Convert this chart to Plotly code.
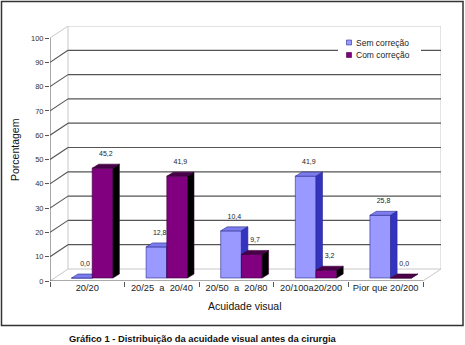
import plotly.graph_objects as go

# ---------------- data ----------------
categories = ["20/20", "20/25\u00a0 a \u00a020/40", "20/50\u00a0 a \u00a020/80", "20/100a20/200", "Pior que 20/200"]
series_names = ["Sem correção", "Com correção"]
sem_correcao = [0.0, 12.8, 19.4, 41.9, 25.8]
com_correcao = [45.2, 41.9, 9.7, 3.2, 0.0]
sem_labels = ["0,0", "12,8", "10,4", "41,9", "25,8"]
com_labels = ["45,2", "41,9", "9,7", "3,2", "0,0"]
y_ticks = list(range(0, 101, 10))
y_title = "Porcentagem"
x_title = "Acuidade visual"
caption = "Gráfico 1 - Distribuição da acuidade visual antes da cirurgia"

# ---------------- geometry (pixels) ----------------
W, H = 465, 345
L, R, T, B = 50, 24, 26, 64
XPX = 74.6          # px per category
YPX = 2.43          # px per percent
PW, PH = W - L - R, H - T - B
x_range = [-0.5, -0.5 + PW / XPX]
y_range = [0, PH / YPX]

bx, by = 18 / XPX, 12 / YPX          # wall depth
pbx, pby = 4.9 / XPX, 3 / YPX        # bar plane offset
dbx, dby = 6.5 / XPX, 4 / YPX        # bar depth
bw = 20.7 / XPX                      # bar width

def pxx(p):
    return (p - L) / PW

def pxy(p):
    return (H - B - p) / PH

colors = {
    0: dict(front="#9999FF", top="#7C7CEE", side="#3333C0", edge="#2A2A90"),
    1: dict(front="#800080", top="#4A0048", side="#000000", edge="#3A003A"),
}

fig = go.Figure()

# ---------------- walls / grid ----------------
shapes = []
light = "#C8C8C8"
dark = "#555555"
x0w, x1w = -0.5, len(categories) - 0.5

def line(xa, ya, xb, yb, color, width=1.0):
    shapes.append(dict(type="line", xref="x", yref="y", x0=xa, y0=ya, x1=xb, y1=yb,
                       line=dict(color=color, width=width), layer="below"))

# floor
line(x0w, 0, x0w + bx, by, light)
line(x1w, 0, x1w + bx, by, light)
line(x0w + bx, by, x1w + bx, by, light)
# back wall verticals
line(x0w + bx, by, x0w + bx, 100 + by, light)
line(x1w + bx, by, x1w + bx, 100 + by, light)
# top
line(x0w, 100, x0w + bx, 100 + by, light)
line(x0w + bx, 100 + by, x1w + bx, 100 + by, light)
for v in y_ticks[1:-1]:
    line(x0w, v, x0w + bx, v + by, dark, 1.1)
    line(x0w + bx, v + by, x1w + bx, v + by, dark, 1.2)

# front axes
line(x0w, 0, x1w, 0, "#555555", 1.0)
line(x0w, 0, x0w, 100, "#555555", 1.0)

# ---------------- 3D bars ----------------
for s, vals in enumerate([sem_correcao, com_correcao]):
    fx, fy, tx, ty, sx, sy = [], [], [], [], [], []
    for i, v in enumerate(vals):
        c = i + pbx
        xa = c - bw if s == 0 else c
        xb = xa + bw
        ya, yb = pby, v + pby
        fx += [xa, xb, xb, xa, xa, None]
        fy += [ya, ya, yb, yb, ya, None]
        tx += [xa, xb, xb + dbx, xa + dbx, xa, None]
        ty += [yb, yb, yb + dby, yb + dby, yb, None]
        sx += [xb, xb + dbx, xb + dbx, xb, xb, None]
        sy += [ya, ya + dby, yb + dby, yb, ya, None]
    col = colors[s]
    for xs, ys, fc in [(fx, fy, col["front"]), (tx, ty, col["top"]), (sx, sy, col["side"])]:
        fig.add_trace(go.Scatter(x=xs, y=ys, mode="lines", fill="toself", fillcolor=fc,
                                 line=dict(color=col["edge"], width=0.6),
                                 hoverinfo="skip", showlegend=False, name=series_names[s]))

# value labels
for s, (vals, labs) in enumerate([(sem_correcao, sem_labels), (com_correcao, com_labels)]):
    xs, ys = [], []
    for i, v in enumerate(vals):
        c = i + pbx
        xa = c - bw if s == 0 else c
        xs.append(xa + bw / 2 + dbx / 2)
        ys.append(v + pby + 14 / YPX)
    fig.add_trace(go.Scatter(x=xs, y=ys, mode="text", text=labs,
                             textfont=dict(family="Liberation Sans, Arial", size=7, color="#222222"),
                             hoverinfo="skip", showlegend=False))

# ---------------- legend (manual) ----------------
shapes.append(dict(type="rect", xref="paper", yref="paper",
                   x0=pxx(338), x1=pxx(421), y0=pxy(63), y1=pxy(35),
                   fillcolor="white", line=dict(width=0), layer="above"))
annotations = []
for k, name in enumerate(series_names):
    yc = 42.5 + k * 12.5
    shapes.append(dict(type="rect", xref="paper", yref="paper",
                       x0=pxx(346.5), x1=pxx(351.5), y0=pxy(yc + 2.5), y1=pxy(yc - 2.5),
                       fillcolor=colors[k]["front"], line=dict(color=colors[k]["edge"], width=0.6),
                       layer="above"))
    annotations.append(dict(xref="paper", yref="paper", x=pxx(353.5), y=pxy(yc),
                            xanchor="left", yanchor="middle", text=name, showarrow=False,
                            font=dict(family="Liberation Sans, Arial", size=8.5, color="#222222")))

# outer frame
shapes.append(dict(type="rect", xref="paper", yref="paper",
                   x0=pxx(1.5), x1=pxx(463), y0=pxy(325.5), y1=pxy(1.5),
                   line=dict(color="#333333", width=1.5), layer="above"))

# titles
annotations.append(dict(xref="paper", yref="paper", x=pxx(15), y=pxy(150), text=y_title,
                        textangle=-90, showarrow=False, xanchor="center", yanchor="middle",
                        font=dict(family="Liberation Sans, Arial", size=10.5, color="#111111")))
annotations.append(dict(xref="paper", yref="paper", x=pxx(245), y=pxy(306), text=x_title,
                        showarrow=False, xanchor="center", yanchor="middle",
                        font=dict(family="Liberation Sans, Arial", size=10.5, color="#111111")))
annotations.append(dict(xref="paper", yref="paper", x=pxx(203), y=pxy(338), text="<b>" + caption + "</b>",
                        showarrow=False, xanchor="center", yanchor="middle",
                        font=dict(family="Liberation Sans, Arial", size=9.4, color="#111111")))

fig.update_layout(
    width=W, height=H,
    margin=dict(l=L, r=R, t=T, b=B, pad=0),
    paper_bgcolor="white", plot_bgcolor="white",
    shapes=shapes, annotations=annotations,
    showlegend=False,
    xaxis=dict(range=x_range, showgrid=False, zeroline=False, showline=False,
               tickmode="array", tickvals=list(range(len(categories))), ticktext=categories,
               ticks="", tickfont=dict(family="Liberation Sans, Arial", size=9.3, color="#222222"),
               minor=dict(tickmode="array", tickvals=[i - 0.5 for i in range(len(categories) + 1)],
                          ticks="outside", ticklen=5, tickcolor="#555555", tickwidth=1, showgrid=False),
               fixedrange=True),
    yaxis=dict(range=y_range, showgrid=False, zeroline=False, showline=False,
               tickmode="array", tickvals=y_ticks, ticks="outside", ticklen=4,
               tickcolor="#555555", tickwidth=1,
               tickfont=dict(family="Liberation Sans, Arial", size=7.5, color="#333333"),
               fixedrange=True),
)

fig.write_html("out.html")
